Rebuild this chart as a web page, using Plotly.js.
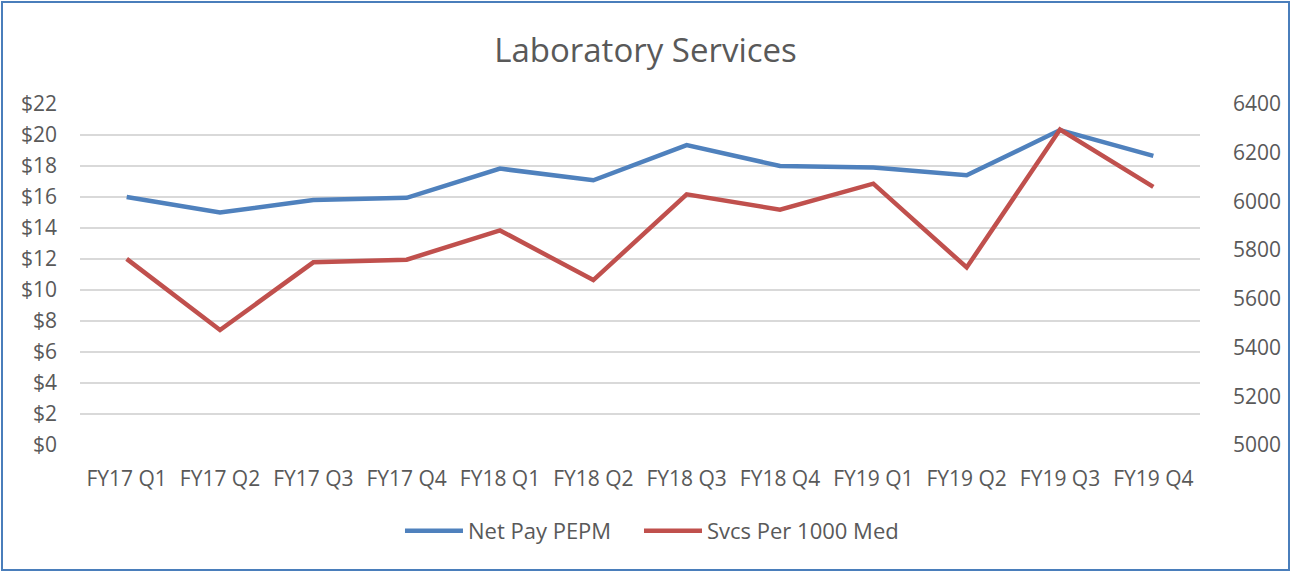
<!DOCTYPE html>
<html>
<head>
<meta charset="utf-8">
<script src="https://cdn.plot.ly/plotly-3.0.1.min.js"></script>
<style>
  html, body { margin: 0; padding: 0; background: #fff; }
  #wrap { position: relative; width: 1291px; height: 572px; }
  #chart { position: absolute; left: 0; top: 0; width: 1291px; height: 572px; }
  #frame { position: absolute; left: 1px; top: 1px; width: 1285px; height: 566px; border: 2px solid #4a7ebb; pointer-events: none; }
</style>
</head>
<body>
<div id="wrap">
  <div id="chart"></div>
  <div id="frame"></div>
</div>
<script>
const categories = ["FY17 Q1","FY17 Q2","FY17 Q3","FY17 Q4","FY18 Q1","FY18 Q2","FY18 Q3","FY18 Q4","FY19 Q1","FY19 Q2","FY19 Q3","FY19 Q4"];
const netPayPEPM = [16.0, 15.0, 15.8, 15.95, 17.83, 17.08, 19.35, 18.0, 17.9, 17.4, 20.32, 18.65];
const svcsPer1000 = [5764, 5472, 5750, 5761, 5881, 5677, 6029, 5966, 6073, 5729, 6295, 6060];
const leftTicks = [0,2,4,6,8,10,12,14,16,18,20,22];
const rightTicks = [5000,5200,5400,5600,5800,6000,6200,6400];

const fontFam = "'Open Sans', Lato, 'Liberation Sans', sans-serif";
const txtColor = "#595959";

const traces = [
  { x: categories, y: netPayPEPM, name: "Net Pay PEPM", type: "scatter", mode: "lines",
    line: { color: "#4f81bd", width: 4.5 }, yaxis: "y", legend: "legend" },
  { x: categories, y: svcsPer1000, name: "Svcs Per 1000 Med", type: "scatter", mode: "lines",
    line: { color: "#c0504d", width: 4.5 }, yaxis: "y2", legend: "legend2" }
];

const legendBase = { orientation: "h", xanchor: "left", y: -0.252, yanchor: "middle",
  font: { size: 22, color: txtColor }, itemwidth: 58, bgcolor: "rgba(0,0,0,0)" };

const layout = {
  width: 1291, height: 572,
  margin: { l: 80, r: 91, t: 104, b: 127 },
  paper_bgcolor: "#fff", plot_bgcolor: "#fff",
  font: { family: fontFam, color: txtColor, size: 21 },
  title: { text: "Laboratory Services", x: 0.5, xanchor: "center", y: 0.912, yanchor: "middle",
           font: { family: fontFam, size: 33, color: txtColor } },
  xaxis: { type: "category", range: [-0.5, 11.5], tickvals: categories, ticktext: categories, showgrid: false,
           showline: false, ticks: "", ticklabelstandoff: 19, tickfont: { size: 21, color: txtColor },
           fixedrange: true },
  yaxis: { range: [0, 22], tickvals: leftTicks, ticktext: leftTicks.map(v => "$" + v),
           showgrid: true, gridcolor: "#d9d9d9", gridwidth: 1.5, zeroline: false, showline: false,
           ticks: "", ticklabelstandoff: 22, tickfont: { size: 21, color: txtColor }, fixedrange: true },
  yaxis2: { range: [5000, 6400], tickvals: rightTicks, ticktext: rightTicks.map(String),
            overlaying: "y", side: "right", showgrid: false, zeroline: false, showline: false,
            ticks: "", ticklabelstandoff: 32, tickfont: { size: 21, color: txtColor }, fixedrange: true },
  showlegend: true,
  legend: Object.assign({}, legendBase, { x: 0.2857 }),
  legend2: Object.assign({}, legendBase, { x: 0.4991 })
};

Plotly.newPlot("chart", traces, layout, { displayModeBar: false, staticPlot: true });
</script>
</body>
</html>
